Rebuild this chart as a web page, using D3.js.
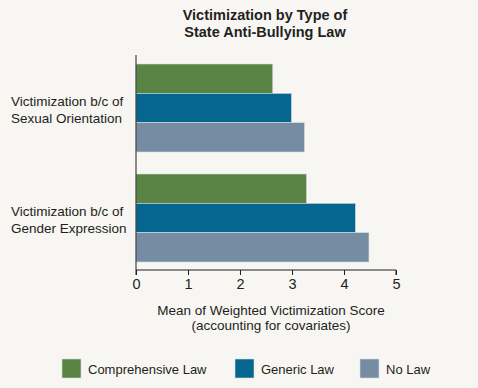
<!DOCTYPE html>
<html>
<head>
<meta charset="utf-8">
<script src="https://cdn.jsdelivr.net/npm/d3@7"></script>
<style>
  body { margin: 0; background: #f7f6f3; }
  svg { display: block; font-family: "Liberation Sans", Arial, sans-serif; }
</style>
</head>
<body>
<div id="chart"></div>
<script>
// data
var categories = ["Victimization b/c of|Sexual Orientation", "Victimization b/c of|Gender Expression"];
var seriesNames = ["Comprehensive Law", "Generic Law", "No Law"];
var comprehensive = [2.63, 3.28];
var generic = [2.99, 4.22];
var noLaw = [3.24, 4.48];
var xTicks = [0, 1, 2, 3, 4, 5];
var colors = ["#5a8443", "#05668f", "#758ca3"];

var W = 478, H = 388;
var svg = d3.select("#chart").append("svg")
    .attr("width", W)
    .attr("height", H);

svg.append("rect").attr("width", W).attr("height", H).attr("fill", "#f7f6f3");

var values = [comprehensive, generic, noLaw];

//---- scales
var x = d3.scaleLinear().domain([0, 5]).range([136, 396]);
var y0 = d3.scaleBand().domain(d3.range(categories.length)).range([64, 262])
    .paddingInner(0.2).paddingOuter(0);
var y1 = d3.scaleBand().domain(d3.range(seriesNames.length)).range([0, y0.bandwidth()]);

//---- bars
var groups = svg.selectAll("g.group")
    .data(categories)
    .enter().append("g")
    .attr("class", "group")
    .attr("transform", function(d, i) { return "translate(0," + y0(i) + ")"; });

groups.selectAll("rect")
    .data(function(d, i) { return values.map(function(s, j) { return { s: j, v: s[i] }; }); })
    .enter().append("rect")
    .attr("x", x(0))
    .attr("y", function(d) { return y1(d.s); })
    .attr("width", function(d) { return x(d.v) - x(0); })
    .attr("height", y1.bandwidth())
    .attr("fill", function(d) { return colors[d.s]; })
    .attr("stroke", "#d8dde3")
    .attr("stroke-width", 0.6);

//---- category labels
groups.append("text")
    .attr("x", 11)
    .attr("y", y0.bandwidth() / 2 - 2)
    .attr("font-size", 13.5)
    .attr("fill", "#231f20")
    .selectAll("tspan")
    .data(function(d) { return d.split("|"); })
    .enter().append("tspan")
    .attr("x", 11)
    .attr("dy", function(d, i) { return i === 0 ? 0 : 17; })
    .text(function(d) { return d; });

//---- axes
svg.append("line")
    .attr("x1", x(0)).attr("x2", x(0))
    .attr("y1", 55).attr("y2", 270)
    .attr("stroke", "#231f20").attr("stroke-width", 1);

var xAxis = svg.append("g")
    .attr("transform", "translate(0,270)")
    .call(d3.axisBottom(x).tickValues(xTicks).tickSize(5).tickFormat(d3.format("d")));
xAxis.select(".domain").attr("stroke", "#231f20").attr("d", "M" + x(0) + ",5V0H" + x(5) + "V5");
xAxis.selectAll(".tick line").attr("stroke", "#231f20");
xAxis.selectAll(".tick text")
    .attr("y", 9)
    .attr("font-size", 14.5)
    .attr("font-family", "Liberation Sans, Arial, sans-serif")
    .attr("fill", "#231f20");

svg.append("text")
    .attr("x", 271).attr("y", 315)
    .attr("text-anchor", "middle")
    .attr("font-size", 13.5)
    .attr("fill", "#231f20")
    .text("Mean of Weighted Victimization Score");
svg.append("text")
    .attr("x", 271).attr("y", 330)
    .attr("text-anchor", "middle")
    .attr("font-size", 13.5)
    .attr("fill", "#231f20")
    .text("(accounting for covariates)");

//---- title
svg.append("text")
    .attr("x", 265).attr("y", 20)
    .attr("text-anchor", "middle")
    .attr("font-size", 14.5)
    .attr("font-weight", "bold")
    .attr("font-family", "Liberation Sans Narrow, Liberation Sans, Arial, sans-serif")
    .attr("fill", "#231f20")
    .text("Victimization by Type of");
svg.append("text")
    .attr("x", 265).attr("y", 37)
    .attr("text-anchor", "middle")
    .attr("font-size", 14.5)
    .attr("font-weight", "bold")
    .attr("font-family", "Liberation Sans Narrow, Liberation Sans, Arial, sans-serif")
    .attr("fill", "#231f20")
    .text("State Anti-Bullying Law");

//---- legend
var legendX = [62, 235, 360];
var legend = svg.selectAll("g.legend")
    .data(seriesNames)
    .enter().append("g")
    .attr("class", "legend")
    .attr("transform", function(d, i) { return "translate(" + legendX[i] + ",359)"; });

legend.append("rect")
    .attr("width", 19).attr("height", 19)
    .attr("fill", function(d, i) { return colors[i]; })
    .attr("stroke", "#d8dde3").attr("stroke-width", 0.6);

legend.append("text")
    .attr("x", 26).attr("y", 14.5)
    .attr("font-size", 13)
    .attr("fill", "#231f20")
    .text(function(d) { return d; });
</script>
</body>
</html>
